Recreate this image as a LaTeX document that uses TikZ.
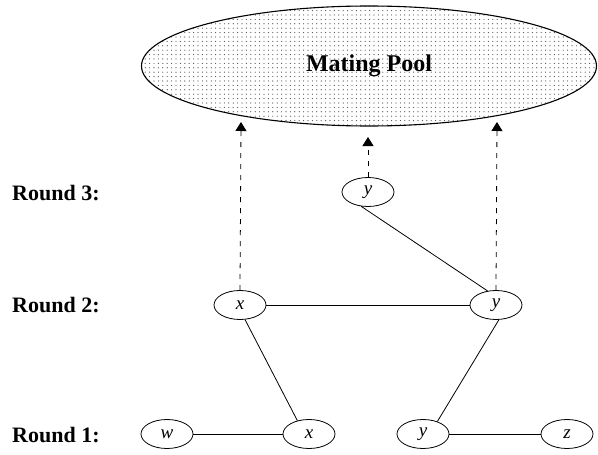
\documentclass[tikz,border=0pt]{standalone}
\usepackage{fontspec}
\setmainfont{Liberation Serif}
\usetikzlibrary{positioning, arrows.meta, shapes.geometric, patterns.meta}
\tikzdeclarepattern{
  name=pdots, type=uncolored,
  bounding box={(-1pt,-1pt) and (1pt,1pt)},
  tile size={(4.4pt,4.4pt)},
  code={\fill (0pt,0pt) circle (0.6pt);}
}
\tikzset{
  rlbl/.style={anchor=west, inner sep=0pt, font=\fontsize{22}{26}\selectfont\bfseries},
  ind/.style={draw, ellipse, minimum width=52pt, minimum height=29pt, inner sep=0pt,
              line width=0.8pt, font=\fontsize{19}{21}\selectfont\itshape},
  pool/.style={draw, ellipse, line width=1.1pt, pattern=pdots, pattern color=black!70,
               minimum width=455pt, minimum height=120pt,
               font=\fontsize{24}{28}\selectfont\bfseries},   % dotted mating pool
  lnk/.style={line width=0.8pt},
  sel/.style={lnk, dash pattern=on 5pt off 6pt, -{Triangle[width=11pt,length=9pt]}},
}
\begin{document}
\begin{tikzpicture}[x=1pt, y=-1pt]
  \useasboundingbox (0,0) rectangle (598,455);
  \node[pool](mp) at (369,66){Mating Pool};
  \coordinate (p1) at (241,122); \coordinate (p2) at (368,137); \coordinate (p3) at (497,122);
  % round labels
  \node[rlbl](l3) at (12,193){Round 3:};
  \node[rlbl](l2) at (12,305){Round 2:};
  \node[rlbl](l1) at (12,435){Round 1:};
  % individuals
  \node[ind](r3y) at (368,192){y};
  \node[ind](r2x) at (240,305){x};
  \node[ind](r2y) at (496,305){y};
  \node[ind](r1w) at (167,434){w};
  \node[ind](r1x) at (309,434){x};
  \node[ind](r1y) at (423,434){y};
  \node[ind](r1z) at (567,434){z};
  \draw[lnk](r1w)--(r1x); \draw[lnk](r1y)--(r1z); \draw[lnk](r2x)--(r2y);
  \draw[lnk](r2x.-71)--(r1x.131); \draw[lnk](r2y.-79)--(r1y.41);
  \draw[lnk](r3y.-115)--(r2y.121);
  \draw[sel](r2x.north)--(p1); \draw[sel](r3y.north)--(p2); \draw[sel](r2y.north)--(p3);
\end{tikzpicture}
\end{document}
